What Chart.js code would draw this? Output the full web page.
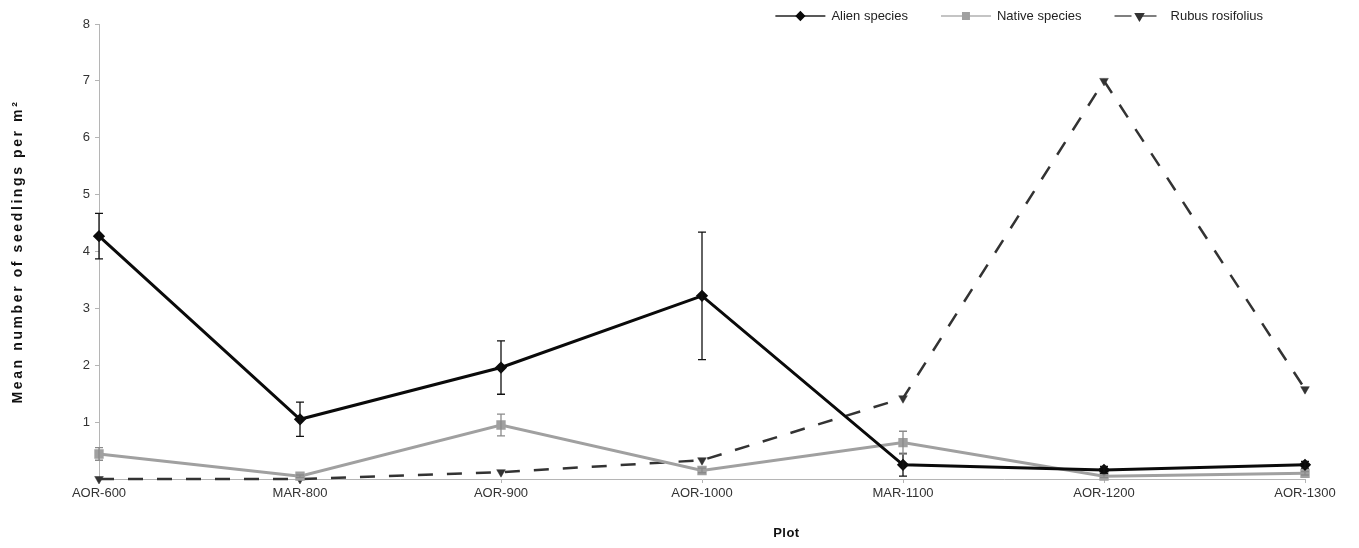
<!DOCTYPE html>
<html>
<head>
<meta charset="utf-8">
<script src="https://cdn.jsdelivr.net/npm/chart.js@4/dist/chart.umd.min.js"></script>
<style>
  html, body { margin: 0; padding: 0; background: #fff; }
  #wrap { width: 1359px; height: 548px; position: relative; }
</style>
</head>
<body>
<div id="wrap"><canvas id="c"></canvas></div>
<script>
// Plots along the altitudinal gradient
const plots = ['AOR-600', 'MAR-800', 'AOR-900', 'AOR-1000', 'MAR-1100', 'AOR-1200', 'AOR-1300'];

// Mean seedlings per m² and standard errors
const alienMean  = [4.27, 1.05, 1.96, 3.22, 0.25, 0.16, 0.25];
const alienErr   = [0.40, 0.30, 0.47, 1.12, 0.20, 0.06, 0.06];
const nativeMean = [0.44, 0.05, 0.95, 0.15, 0.64, 0.05, 0.10];
const nativeErr  = [0.11, 0.02, 0.19, 0.04, 0.20, 0.02, 0.03];
const rubusMean  = [0, 0, 0.12, 0.33, 1.42, 7.00, 1.58];

const yTicks = [1, 2, 3, 4, 5, 6, 7, 8];
const yTitle = 'Mean number of seedlings per m²';
const xTitle = 'Plot';

const FONT = '"Liberation Sans", Arial, Helvetica, sans-serif';
Chart.defaults.font.family = FONT;
Chart.defaults.font.size = 13;
Chart.defaults.color = '#333';

// Vertical error bars with caps, drawn from each dataset's errors array
const errorBars = {
  id: 'errorBars',
  afterDatasetsDraw(chart) {
    const ctx = chart.ctx, y = chart.scales.y;
    chart.data.datasets.forEach((ds, i) => {
      if (!ds.errors) return;
      const meta = chart.getDatasetMeta(i);
      ctx.save();
      ctx.strokeStyle = ds.errorColor;
      ctx.lineWidth = 1.3;
      meta.data.forEach((pt, j) => {
        const e = ds.errors[j];
        if (!e) return;
        const v = ds.data[j];
        const yt = y.getPixelForValue(v + e);
        const yb = y.getPixelForValue(Math.max(v - e, 0));
        const x = pt.x;
        ctx.beginPath();
        ctx.moveTo(x, yt); ctx.lineTo(x, yb);
        ctx.moveTo(x - 4, yt); ctx.lineTo(x + 4, yt);
        ctx.moveTo(x - 4, yb); ctx.lineTo(x + 4, yb);
        ctx.stroke();
      });
      ctx.restore();
    });
  }
};

// Legend entries drawn as a short line with the series marker in the middle
const lineLegend = {
  id: 'lineLegend',
  afterDraw(chart) {
    const ctx = chart.ctx;
    const sample = 50, gapText = 6, gapItem = 33, yy = 16;
    const items = chart.data.datasets;
    ctx.save();
    ctx.font = '13px ' + FONT;
    const widths = items.map(d => ctx.measureText(d.label).width);
    const total = widths.reduce((a, b) => a + b, 0) + items.length * (sample + gapText) + (items.length - 1) * gapItem;
    let x = chart.width - 96 - total;
    items.forEach((d, k) => {
      ctx.save();
      ctx.strokeStyle = d.legendColor;
      ctx.lineWidth = 1.6;
      ctx.setLineDash(d.legendDash || []);
      ctx.beginPath();
      ctx.moveTo(x, yy); ctx.lineTo(x + sample, yy);
      ctx.stroke();
      ctx.setLineDash([]);
      ctx.fillStyle = d.pointBackgroundColor;
      ctx.strokeStyle = d.pointBorderColor;
      Chart.helpers.drawPoint(ctx, {
        pointStyle: d.pointStyle,
        radius: d.legendRadius,
        rotation: d.pointRotation || 0,
        borderWidth: 1
      }, x + sample / 2, yy);
      ctx.restore();
      ctx.fillStyle = '#222';
      ctx.textBaseline = 'middle';
      ctx.textAlign = 'left';
      ctx.fillText(d.label, x + sample + gapText, yy);
      x += sample + gapText + widths[k] + gapItem;
    });
    ctx.restore();
  }
};

// Axis titles (letter-spaced, bold)
const axisTitles = {
  id: 'axisTitles',
  afterDraw(chart) {
    const ctx = chart.ctx, a = chart.chartArea;
    ctx.save();
    ctx.fillStyle = '#111';
    ctx.textAlign = 'center';
    ctx.textBaseline = 'middle';
    ctx.font = 'bold 14px ' + FONT;
    ctx.letterSpacing = '2.6px';
    ctx.save();
    ctx.translate(18, (a.top + a.bottom) / 2);
    ctx.rotate(-Math.PI / 2);
    ctx.fillText(yTitle, 0, 0);
    ctx.restore();
    ctx.font = 'bold 13px ' + FONT;
    ctx.letterSpacing = '0.5px';
    ctx.fillText(xTitle, a.left + (a.right - a.left) * 0.57, 533);
    ctx.restore();
  }
};

new Chart(document.getElementById('c'), {
  type: 'line',
  data: {
    labels: plots,
    datasets: [
      {
        label: 'Alien species',
        data: alienMean,
        errors: alienErr,
        errorColor: '#111',
        borderColor: '#0a0a0a',
        legendColor: '#222',
        borderWidth: 3,
        pointStyle: 'rectRot',
        pointRadius: 4,
        legendRadius: 4,
        pointBackgroundColor: '#0a0a0a',
        pointBorderColor: '#0a0a0a',
        tension: 0,
        clip: false,
        order: 0
      },
      {
        label: 'Native species',
        data: nativeMean,
        errors: nativeErr,
        errorColor: '#8a8a8a',
        borderColor: '#a0a0a0',
        legendColor: '#b0b0b0',
        borderWidth: 3,
        pointStyle: 'rect',
        pointRadius: 4.5,
        legendRadius: 4.5,
        pointBackgroundColor: '#a0a0a0',
        pointBorderColor: '#a0a0a0',
        tension: 0,
        clip: false,
        order: 1
      },
      {
        label: 'Rubus rosifolius',
        data: rubusMean,
        borderColor: '#333',
        legendColor: '#555',
        borderWidth: 2.5,
        borderDash: [15, 14],
        legendDash: [17, 8],
        pointStyle: 'triangle',
        pointRotation: 180,
        pointRadius: 5,
        pointBorderWidth: 0.5,
        legendRadius: 4.5,
        pointBackgroundColor: '#333',
        pointBorderColor: '#333',
        tension: 0,
        clip: false,
        order: 2
      }
    ]
  },
  options: {
    responsive: true,
    maintainAspectRatio: false,
    animation: false,
    events: [],
    layout: { padding: { top: 24, right: 54, left: 0, bottom: 0 } },
    plugins: { legend: { display: false }, tooltip: { enabled: false }, title: { display: false } },
    scales: {
      x: {
        offset: false,
        grid: { drawOnChartArea: false, tickLength: 4, color: '#b5b5b5' },
        border: { color: '#b5b5b5', width: 1 },
        ticks: { autoSkip: false, maxRotation: 0, padding: 3, color: '#333', font: { size: 13 } },
        afterFit(s) { s.height = 69; }
      },
      y: {
        min: 0,
        max: 8,
        grid: { drawOnChartArea: false, tickLength: 4, color: '#b5b5b5' },
        border: { color: '#b5b5b5', width: 1 },
        ticks: { padding: 5, color: '#333', font: { size: 13 } },
        afterBuildTicks(s) { s.ticks = yTicks.map(v => ({ value: v })); },
        afterFit(s) { s.width = 99; }
      }
    }
  },
  plugins: [errorBars, lineLegend, axisTitles]
});
</script>
</body>
</html>
